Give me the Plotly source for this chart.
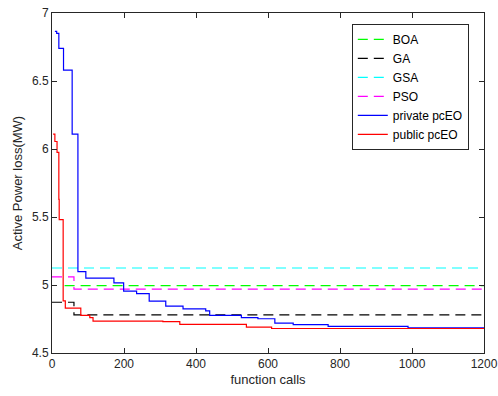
import plotly.graph_objects as go

# ---- data ----
boa_x = [35, 1200]
boa_y = [4.995, 4.995]
ga_x = [0, 61, 1200]
ga_y = [4.873, 4.78, 4.78]
gsa_x = [0, 1200]
gsa_y = [5.125, 5.125]
pso_x = [0, 61, 1200]
pso_y = [5.06, 4.97, 4.97]
private_x = [8, 13, 19, 32, 56, 72, 94, 172, 199, 235, 270, 316, 364, 427, 438, 526, 572, 619, 670, 767, 989, 1200]
private_y = [6.865, 6.85, 6.74, 6.58, 6.11, 5.098, 5.05, 5.015, 4.955, 4.936, 4.881, 4.844, 4.825, 4.81, 4.776,
             4.76, 4.752, 4.72, 4.708, 4.696, 4.685, 4.683]
public_x = [3, 8, 14, 19, 20, 31, 37, 80, 105, 114, 308, 355, 540, 610, 1200]
public_y = [6.11, 6.055, 5.975, 5.63, 5.48, 4.883, 4.83, 4.776, 4.76, 4.735, 4.73, 4.71, 4.69, 4.68, 4.68]

x_ticks = [0, 200, 400, 600, 800, 1000, 1200]
y_ticks = [4.5, 5, 5.5, 6, 6.5, 7]

fig = go.Figure()
dash = "10px,6px"
series = [
    ("BOA", boa_x, boa_y, "#00ff00", dash),
    ("GA", ga_x, ga_y, "#000000", dash),
    ("GSA", gsa_x, gsa_y, "#00ffff", dash),
    ("PSO", pso_x, pso_y, "#ff00ff", dash),
    ("private pcEO", private_x, private_y, "#0000ff", "solid"),
    ("public pcEO", public_x, public_y, "#ff0000", "solid"),
]
for name, xs, ys, col, d in series:
    fig.add_trace(go.Scatter(x=xs, y=ys, mode="lines", name=name,
                             line=dict(color=col, width=1.2, dash=d, shape="hv")))

axis_common = dict(showgrid=False, zeroline=False, showline=True, mirror="ticks",
                   linecolor="#262626", linewidth=1, ticks="inside", ticklen=5,
                   tickcolor="#262626", tickfont=dict(size=12, color="#262626"),
                   automargin=False, ticklabeloverflow="allow")
fig.update_xaxes(range=[0, 1200], tickvals=x_ticks,
                 title=dict(text="function calls", font=dict(size=13, color="#262626"), standoff=4),
                 **axis_common)
fig.update_yaxes(range=[4.5, 7], tickvals=y_ticks, ticktext=["4.5", "5", "5.5", "6", "6.5", "7"],
                 title=dict(text="Active Power loss(MW)", font=dict(size=13, color="#262626"), standoff=6),
                 **axis_common)
fig.update_layout(
    width=498, height=396,
    margin=dict(l=52, r=14, t=13, b=43),
    plot_bgcolor="white", paper_bgcolor="white",
    font=dict(family="Liberation Sans, Arial, sans-serif", color="#262626"),
    legend=dict(x=0.694, y=0.968, xanchor="left", yanchor="top",
                bgcolor="white", bordercolor="#262626", borderwidth=1,
                font=dict(size=12, color="#000000"), tracegroupgap=0,
                itemwidth=30),
)
fig.write_html("out.html", config={"displayModeBar": False},
               post_script="document.body.style.margin='0';document.body.style.overflow='hidden';")
